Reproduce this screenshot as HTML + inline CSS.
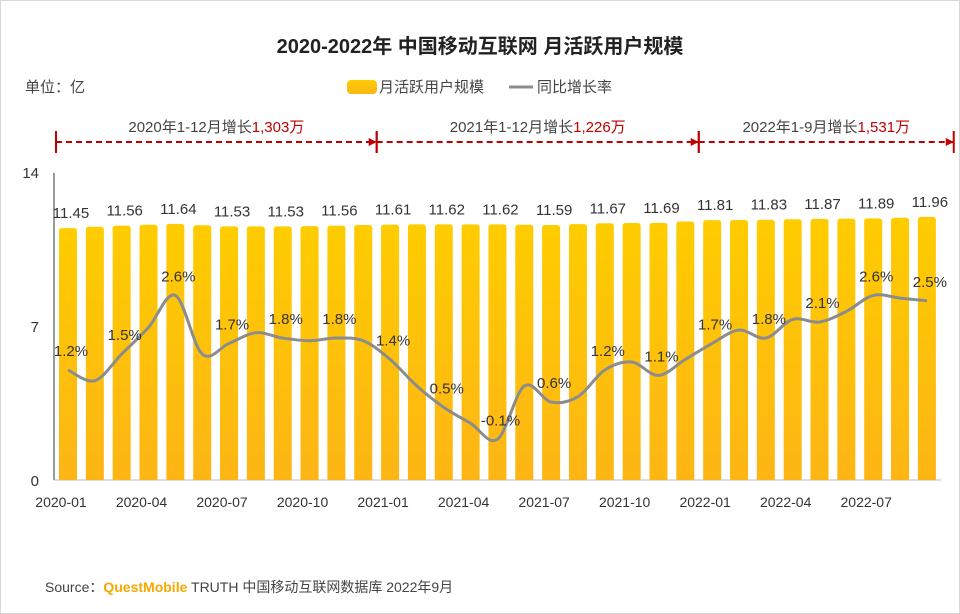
<!DOCTYPE html>
<html><head><meta charset="utf-8"><style>
body{margin:0;background:#fff;}
#wrap{position:relative;width:958px;height:612px;border:1px solid #d9d9d9;background:#fff;font-family:"Liberation Sans","Noto Sans CJK SC",sans-serif;overflow:hidden}
svg text{font-family:"Liberation Sans","Noto Sans CJK SC",sans-serif}
</style></head><body>
<div id="wrap">
<svg id="chart" width="958" height="612">
<defs>
<linearGradient id="bg" x1="0" y1="0" x2="0" y2="1"><stop offset="0" stop-color="#ffcc00"/><stop offset="1" stop-color="#fdb515"/></linearGradient>
</defs>
<text x="479" y="52" text-anchor="middle" font-size="20" font-weight="bold" fill="#222">2020-2022年 中国移动互联网 月活跃用户规模</text>
<text x="24" y="91" font-size="15" fill="#444">单位：亿</text>
<rect x="346" y="79" width="30" height="14" rx="4" fill="url(#bg)"/>
<text x="378" y="91" font-size="15" fill="#444">月活跃用户规模</text>
<line x1="508" y1="86" x2="532" y2="86" stroke="#8c8c8c" stroke-width="3"/>
<text x="536" y="91" font-size="15" fill="#444">同比增长率</text>
<g id="ann"></g>
<g id="axes"></g>
<g id="bars"></g>
<g id="line"></g>
<text x="44" y="591" font-size="14" fill="#444">Source：<tspan fill="#f5a800" font-weight="bold">QuestMobile</tspan> TRUTH 中国移动互联网数据库 2022年9月</text>
</svg>
</div>
<script>
const categories=["2020-01","2020-02","2020-03","2020-04","2020-05","2020-06","2020-07","2020-08","2020-09","2020-10","2020-11","2020-12","2021-01","2021-02","2021-03","2021-04","2021-05","2021-06","2021-07","2021-08","2021-09","2021-10","2021-11","2021-12","2022-01","2022-02","2022-03","2022-04","2022-05","2022-06","2022-07","2022-08","2022-09"];
const mauValues=[11.45,11.51,11.56,11.6,11.64,11.58,11.53,11.53,11.53,11.54,11.56,11.59,11.61,11.62,11.62,11.62,11.62,11.6,11.59,11.63,11.67,11.68,11.69,11.75,11.81,11.82,11.83,11.85,11.87,11.88,11.89,11.92,11.96];
const growthValues=[1.2,1.0,1.5,2.0,2.6,1.5,1.7,1.9,1.8,1.75,1.8,1.75,1.4,0.9,0.5,0.2,-0.1,0.9,0.6,0.7,1.2,1.35,1.1,1.4,1.7,1.95,1.8,2.15,2.1,2.3,2.6,2.55,2.5];
const yTicks=[0,7,14];
const annotations=[{from:0,to:12,text:"2020年1-12月增长",val:"1,303万"},{from:12,to:24,text:"2021年1-12月增长",val:"1,226万"},{from:24,to:33.5,text:"2022年1-9月增长",val:"1,531万"}];
const NS="http://www.w3.org/2000/svg";
function mk(tag,attrs,parent){const e=document.createElementNS(NS,tag);for(const k in attrs)e.setAttribute(k,attrs[k]);parent.appendChild(e);return e;}
const x=i=>67+i*26.84;
const y=v=>479-v*22;
const gy=v=>433-v*53.3;
const axes=document.getElementById('axes'),bars=document.getElementById('bars'),lineG=document.getElementById('line'),ann=document.getElementById('ann');
const ax=mk('line',{x1:53,y1:172,x2:53,y2:479,stroke:'#333'},axes);

const xa=mk('line',{x1:53,y1:479,x2:940,y2:479,stroke:'#bbb'},axes);

yTicks.forEach(t=>{const e=mk('text',{x:38,y:y(t)+6,'text-anchor':'end','font-size':15,fill:'#333'},axes);e.textContent=t;
});
categories.forEach((c,i)=>{
 if(i%3===0){const e=mk('text',{x:x(i)-7,y:506,'text-anchor':'middle','font-size':14,fill:'#333'},axes);e.textContent=c;
 }
 const v=mauValues[i],top=y(v);
 const r=mk('path',{d:`M${x(i)-9},479 V${top+3} Q${x(i)-9},${top} ${x(i)-6},${top} H${x(i)+6} Q${x(i)+9},${top} ${x(i)+9},${top+3} V479 Z`,fill:'url(#bg)'},bars);
 
 if(i%2===0){const t=mk('text',{x:x(i)+3,y:top-10,'text-anchor':'middle','font-size':15,fill:'#333'},bars);t.textContent=v.toFixed(2);
 }
});
const pts=growthValues.map((g,i)=>[x(i),gy(g)]);
let d=`M${pts[0][0]},${pts[0][1]}`;
for(let i=0;i<pts.length-1;i++){const p0=pts[i-1]||pts[i],p1=pts[i],p2=pts[i+1],p3=pts[i+2]||p2;
 d+=` C${p1[0]+(p2[0]-p0[0])/6},${p1[1]+(p2[1]-p0[1])/6} ${p2[0]-(p3[0]-p1[0])/6},${p2[1]-(p3[1]-p1[1])/6} ${p2[0]},${p2[1]}`;}
const lp=mk('path',{d:d,fill:'none',stroke:'#8c8c8c','stroke-width':3},lineG);

growthValues.forEach((g,i)=>{if(i%2===0){const t=mk('text',{x:x(i)+3,y:gy(g)-14,'text-anchor':'middle','font-size':15,fill:'#333'},lineG);t.textContent=g.toFixed(1)+'%';
 }});
annotations.forEach(a=>{
 const x1=a.from===0?55:x(a.from)-13.4,x2=x(a.to)-13.4;
 const l=mk('line',{x1:x1,y1:141,x2:x2,y2:141,stroke:'#c00000','stroke-width':2,'stroke-dasharray':'6,4'},ann);
 
 mk('line',{x1:x1,y1:130,x2:x1,y2:152,stroke:'#c00000','stroke-width':2},ann);
 mk('line',{x1:x2,y1:130,x2:x2,y2:152,stroke:'#c00000','stroke-width':2},ann);
 mk('path',{d:`M${x2-8},137 L${x2},141 L${x2-8},145 Z`,fill:'#c00000'},ann);
 const t=mk('text',{x:(x1+x2)/2,y:131,'text-anchor':'middle','font-size':15,fill:'#444'},ann);
 
 t.textContent=a.text;const s=mk('tspan',{fill:'#c00000'},t);s.textContent=a.val;
});
</script>
</body></html>
